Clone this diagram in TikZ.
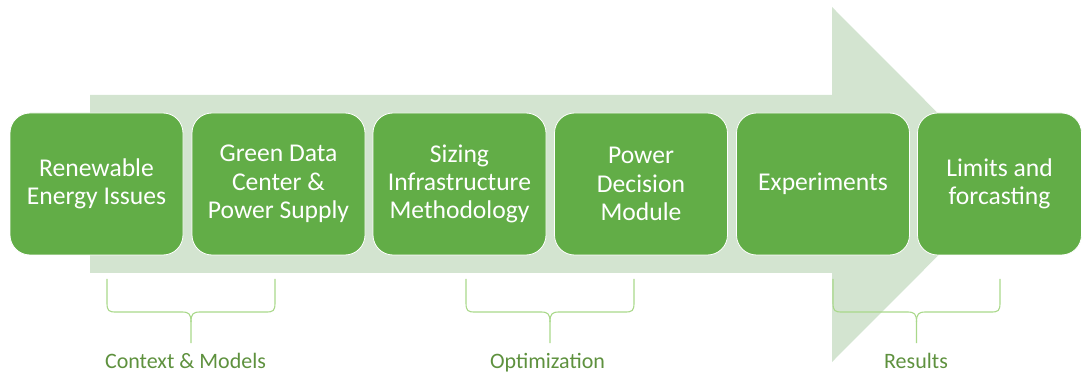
\documentclass[tikz,border=0pt]{standalone}
\usepackage{fontspec}
\setmainfont{Carlito}
\definecolor{boxgreen}{HTML}{62AD47}
\definecolor{arrowgreen}{HTML}{D3E4D0}
\definecolor{bracegreen}{HTML}{A9D88A}
\definecolor{labelgreen}{HTML}{5E913E}
\begin{document}
\begin{tikzpicture}[x=1pt,y=-1pt,
  stepbox/.style={draw=white, line width=0.8pt, fill=boxgreen, rounded corners=20pt,
    minimum width=173pt, minimum height=142pt, inner sep=0pt, text=white, align=center,
    font=\fontsize{25.6}{28.3}\selectfont},
  bracelabel/.style={text=labelgreen, font=\fontsize{22}{24}\selectfont, inner sep=0pt, anchor=base},
  bracepath/.style={draw=bracegreen, line width=1.1pt}]
\useasboundingbox (0,0) rectangle (1082,374);
% big arrow
\fill[arrowgreen] (90,95) -- (832,95) -- (832,7) -- (1009,184.5) -- (832,362) -- (832,273) -- (90,273) -- cycle;
% boxes
\node[stepbox] (b1) at (96.5,184) {Renewable\\Energy Issues};
\node[stepbox] (b2) at (278.5,184) {Green Data\\Center \&\\Power Supply};
\node[stepbox] (b3) at (459.5,184) {Sizing\\Infrastructure\\Methodology};
\node[stepbox] (b4) at (641,184) {Power\\Decision\\Module};
\node[stepbox] (b5) at (823,184) {Experiments};
\node[stepbox, minimum width=164pt] (b6) at (999.5,184) {Limits and\\forcasting};
% braces
\foreach \l/\c/\r in {107/191/275, 466/550/634, 833/916.5/1000}{
  \draw[bracepath] (\l,279) -- (\l,303) .. controls (\l,311) and (\l+2,312) .. (\l+9,312)
    -- (\c-9,312) .. controls (\c-2,312) and (\c,314) .. (\c,322) -- (\c,343);
  \draw[bracepath] (\r,279) -- (\r,303) .. controls (\r,311) and (\r-2,312) .. (\r-9,312)
    -- (\c+9,312) .. controls (\c+2,312) and (\c,314) .. (\c,322);
}
\node[bracelabel] (l1) at (185.5,368) {Context \& Models};
\node[bracelabel] (l2) at (547.5,368) {Optimization};
\node[bracelabel] (l3) at (916,368) {Results};
\end{tikzpicture}
\end{document}
